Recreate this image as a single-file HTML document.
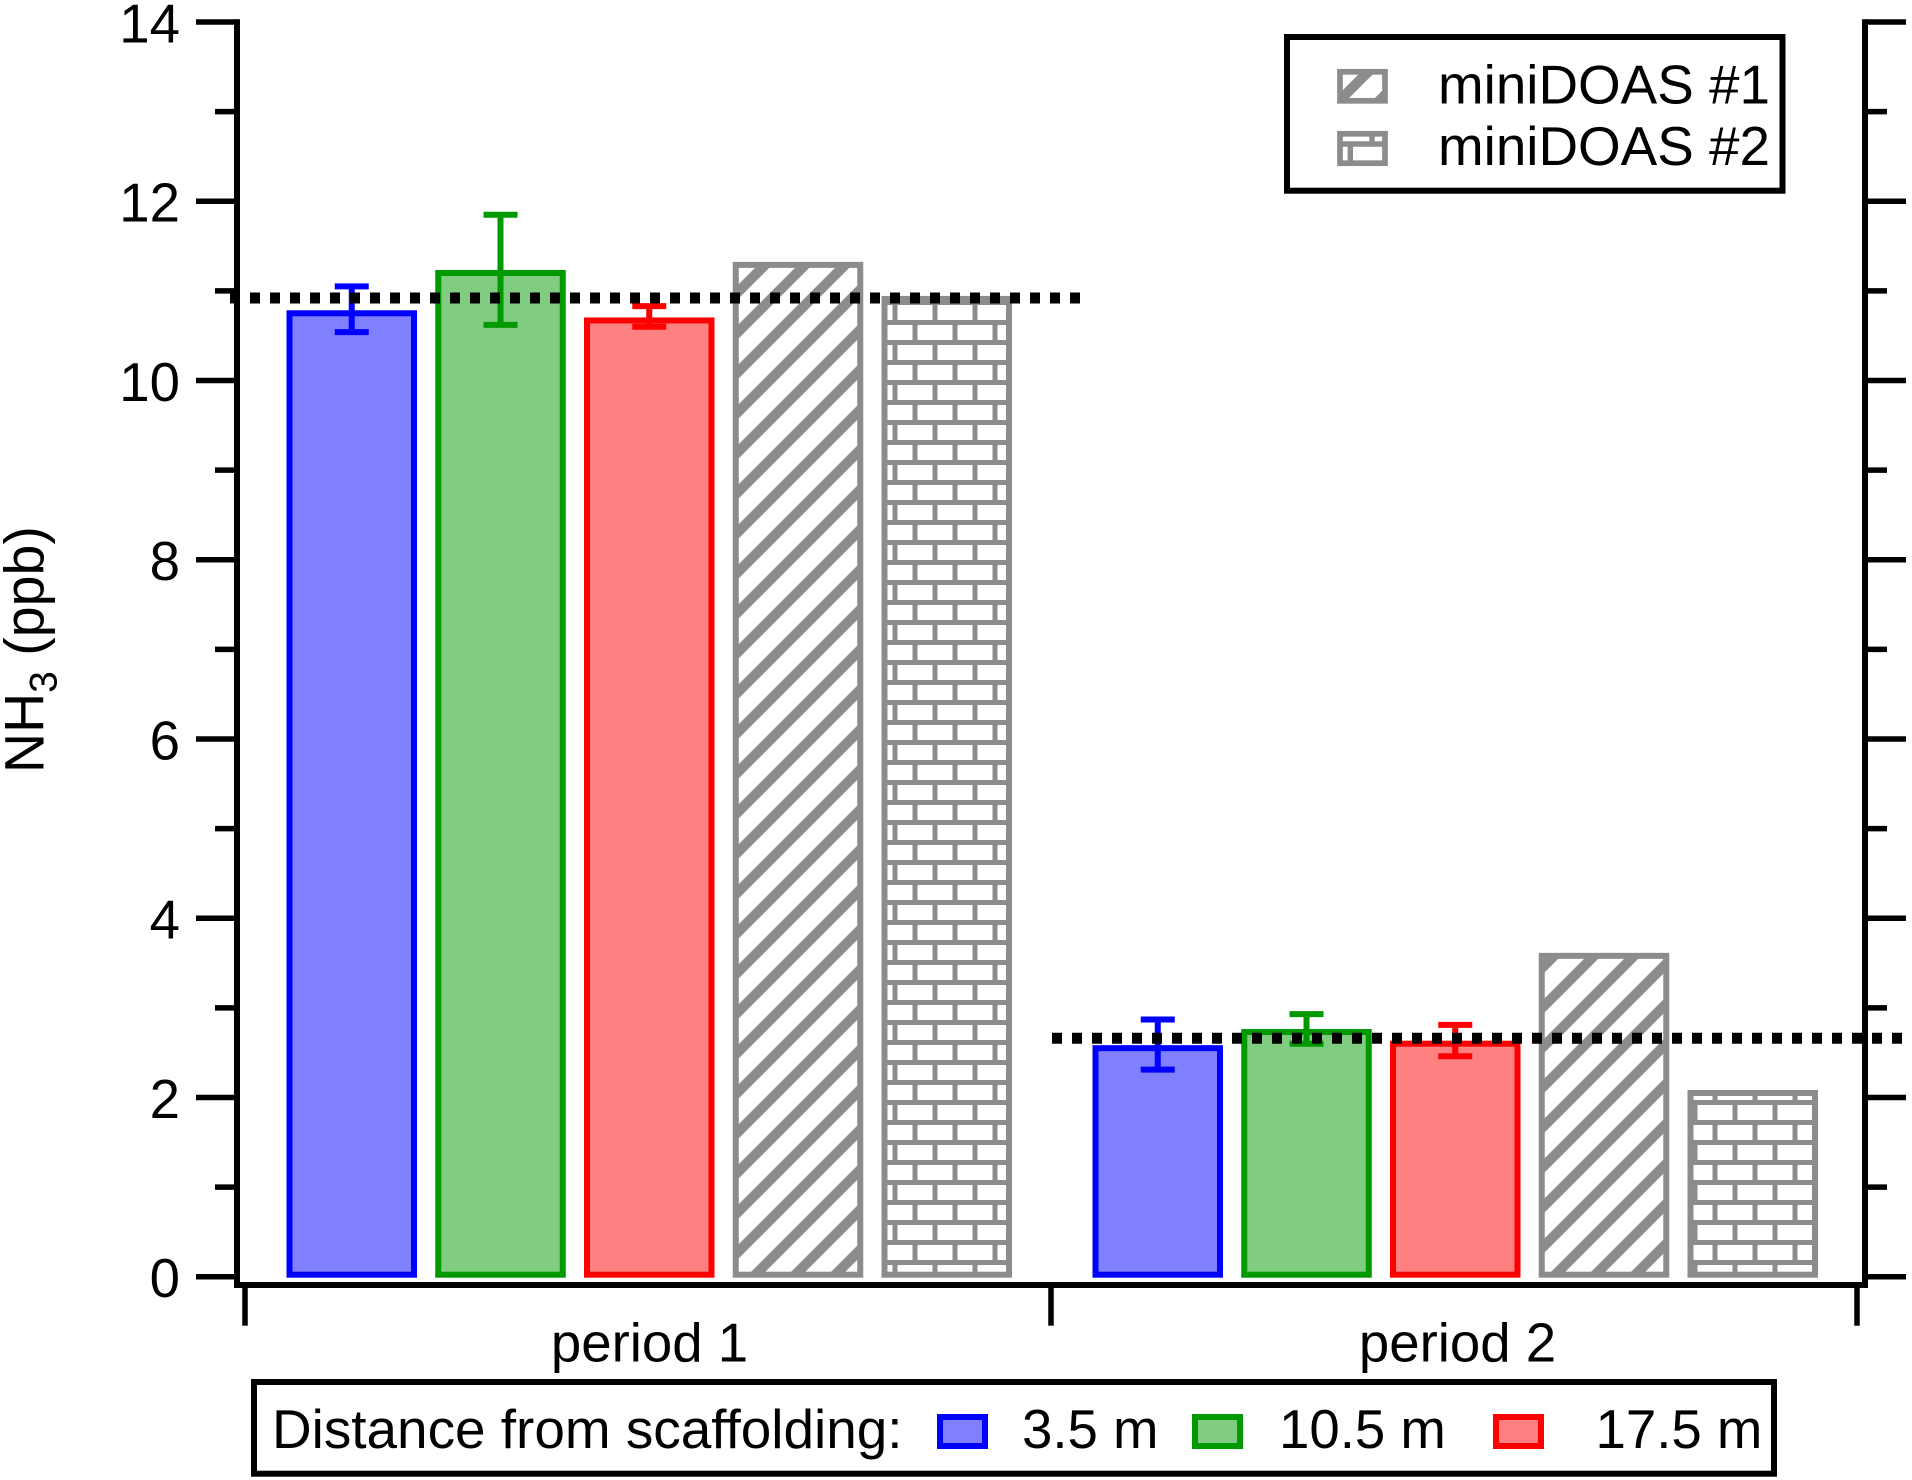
<!DOCTYPE html>
<html lang="en">
<head>
<meta charset="utf-8">
<title>NH3 concentration by period</title>
<style>
html,body{margin:0;padding:0;background:#fff;}
svg{display:block;font-family:"Liberation Sans",Arial,sans-serif;}
text{fill:#000;font-size:54.6px;}
</style>
</head>
<body>
<svg id="chart" xmlns="http://www.w3.org/2000/svg" width="1912" height="1480" viewBox="0 0 1912 1480">
<defs>
<pattern id="hatch" patternUnits="userSpaceOnUse" width="40" height="40">
<rect width="40" height="40" fill="#fff"/>
<path d="M-10 40L40 -10M20 50L50 20" stroke="#8c8c8c" stroke-width="10" fill="none"/>
</pattern>
<pattern id="hatch-key" patternUnits="userSpaceOnUse" width="40" height="40" patternTransform="translate(10 0)">
<rect width="40" height="40" fill="#fff"/>
<path d="M-10 40L40 -10M20 50L50 20" stroke="#8c8c8c" stroke-width="10" fill="none"/>
</pattern>
<pattern id="brick" patternUnits="userSpaceOnUse" width="40" height="40">
<rect width="40" height="40" fill="#fff"/>
<path d="M0 2.5H40M0 22.5H40M35 2.5V22.5M15 22.5V42.5M15 -2.5V2.5" stroke="#8c8c8c" stroke-width="5" fill="none"/>
</pattern>
</defs>
<rect x="0" y="0" width="1912" height="1480" fill="#fff"/>
<g id="bars"></g>
<g id="errors"></g>
<g id="axes"></g>
<g id="means"></g>
<text transform="translate(43.5,773) rotate(-90)" style="font-size:55.5px">NH<tspan dy="13" style="font-size:39px">3</tspan><tspan dy="-13"> (ppb)</tspan></text>

<g>
<rect x="1287" y="37" width="495.5" height="153.7" fill="#fff" stroke="#000" stroke-width="6"/>
<rect x="1340" y="71.8" width="45" height="29" fill="url(#hatch-key)" stroke="#8c8c8c" stroke-width="5.7"/>
<g>
<rect x="1340" y="133.8" width="45" height="29.4" fill="#fff" stroke="#8c8c8c" stroke-width="5.7"/>
<path d="M1340 144H1385M1372 136V144M1350.3 144V163" stroke="#8c8c8c" stroke-width="5.4" fill="none"/>
</g>
<text x="1438" y="103.5" style="font-size:54.8px">miniDOAS #1</text>
<text x="1438" y="165.2" style="font-size:54.8px">miniDOAS #2</text>
</g>

<g>
<rect x="254" y="1382" width="1520" height="91.7" fill="#fff" stroke="#000" stroke-width="6"/>
<text x="272" y="1448" style="font-size:54.9px">Distance from scaffolding:</text>
<rect x="940" y="1417" width="45" height="29" fill="#8080ff" stroke="#0000ff" stroke-width="6"/>
<text x="1022" y="1448">3.5 m</text>
<rect x="1195" y="1417" width="45" height="29" fill="#80cc80" stroke="#009900" stroke-width="6"/>
<text x="1279" y="1448">10.5 m</text>
<rect x="1496" y="1417" width="45" height="29" fill="#ff8080" stroke="#ff0000" stroke-width="6"/>
<text x="1595.5" y="1448">17.5 m</text>
</g>

<script>
// Chart data
const categories = ['period 1', 'period 2'];
const seriesNames = ['3-5-m', '10-5-m', '17-5-m', 'minidoas-1', 'minidoas-2'];
const seriesValues = [
  [10.75, 2.55],
  [11.20, 2.73],
  [10.67, 2.60],
  [11.29, 3.58],
  [10.91, 2.05]
];
const errorUpper = [
  [11.05, 2.87],
  [11.85, 2.93],
  [10.83, 2.81]
];
const errorLower = [
  [10.54, 2.31],
  [10.62, 2.60],
  [10.60, 2.46]
];
const periodMeans = [10.92, 2.66];
const yTickValues = [0, 2, 4, 6, 8, 10, 12, 14];
const yTickLabels = ['0', '2', '4', '6', '8', '10', '12', '14'];
const yMinorTickValues = [1, 3, 5, 7, 9, 11, 13];

// Series styles
const strokes = ['#0000ff', '#009900', '#ff0000', '#8c8c8c', '#8c8c8c'];
const fills = ['#8080ff', '#80cc80', '#ff8080', 'url(#hatch)', 'url(#brick)'];

// Axis functions
const NS = 'http://www.w3.org/2000/svg';
function yScale(v) { return 1276.7 - 89.62 * v; }
function xBand(i) { return 245 + 806 * i; }
function xBar(i, s) { return xBand(i) + 41.5 + 148.75 * s; }
const BAR_OUTER = 130.5;
const BASE_Y = 1274.7;

function make(tag, attrs, parent) {
  const n = document.createElementNS(NS, tag);
  for (const k in attrs) n.setAttribute(k, attrs[k]);
  parent.appendChild(n);
  return n;
}

const barsG = document.getElementById('bars');
const errG = document.getElementById('errors');
const axesG = document.getElementById('axes');
const meansG = document.getElementById('means');

// Bars
seriesValues.forEach(function (vals, s) {
  vals.forEach(function (v, i) {
    const r = make('rect', {
      x: xBar(i, s) + 3,
      y: yScale(v),
      width: BAR_OUTER - 6,
      height: BASE_Y - yScale(v),
      fill: fills[s],
      stroke: strokes[s],
      'stroke-width': 6
    }, barsG);
    
    
  });
});

// Error bars
errorUpper.forEach(function (ups, s) {
  ups.forEach(function (up, i) {
    const cx = xBar(i, s) + BAR_OUTER / 2;
    const yU = yScale(up);
    const yL = yScale(errorLower[s][i]);
    const p = make('path', {
      d: 'M' + (cx - 17) + ' ' + yU + 'H' + (cx + 17) +
         'M' + cx + ' ' + yU + 'V' + yL +
         'M' + (cx - 17) + ' ' + yL + 'H' + (cx + 17),
      fill: 'none',
      stroke: strokes[s],
      'stroke-width': 6
    }, errG);
    
    
  });
});

// Axis frame
const leftAxis = make('line', { x1: 237, y1: 19.3, x2: 237, y2: 1288, stroke: '#000', 'stroke-width': 6 }, axesG);


const rightAxis = make('line', { x1: 1865, y1: 19.3, x2: 1865, y2: 1288, stroke: '#000', 'stroke-width': 6 }, axesG);


const bottomAxis = make('line', { x1: 234, y1: 1285, x2: 1868, y2: 1285, stroke: '#000', 'stroke-width': 6 }, axesG);



// Y ticks and labels
yTickValues.forEach(function (v, k) {
  const y = yScale(v);
  const tl = make('line', { x1: 196, y1: y, x2: 237, y2: y, stroke: '#000', 'stroke-width': 5.5 }, axesG);
  
  
  const tr = make('line', { x1: 1865, y1: y, x2: 1906, y2: y, stroke: '#000', 'stroke-width': 5.5 }, axesG);
  
  
  const lab = make('text', { x: 180, y: y + 20.3, 'text-anchor': 'end' }, axesG);
  lab.textContent = yTickLabels[k];
  
  
});
yMinorTickValues.forEach(function (v) {
  const y = yScale(v);
  const tl = make('line', { x1: 215, y1: y, x2: 237, y2: y, stroke: '#000', 'stroke-width': 5.5 }, axesG);
  
  
  const tr = make('line', { x1: 1865, y1: y, x2: 1887, y2: y, stroke: '#000', 'stroke-width': 5.5 }, axesG);
  
  
});

// X ticks and category labels
for (let i = 0; i <= categories.length; i++) {
  const x = xBand(i);
  const t = make('line', { x1: x, y1: 1287, x2: x, y2: 1325.7, stroke: '#000', 'stroke-width': 5.5 }, axesG);
  
  
}
categories.forEach(function (c, i) {
  const lab = make('text', { x: xBand(i) + 404.5 + i * 2, y: 1361.3, 'text-anchor': 'middle' }, axesG);
  lab.textContent = c;
  
  
});

// Dotted mean lines
periodMeans.forEach(function (m, i) {
  const x0 = xBand(i) + (i ? 1 : -15);
  const l = make('line', {
    x1: x0, y1: yScale(m), x2: x0 + 850, y2: yScale(m),
    stroke: '#000', 'stroke-width': 11, 'stroke-dasharray': '10 10'
  }, meansG);
  
  
});
</script>
</svg>
</body>
</html>
